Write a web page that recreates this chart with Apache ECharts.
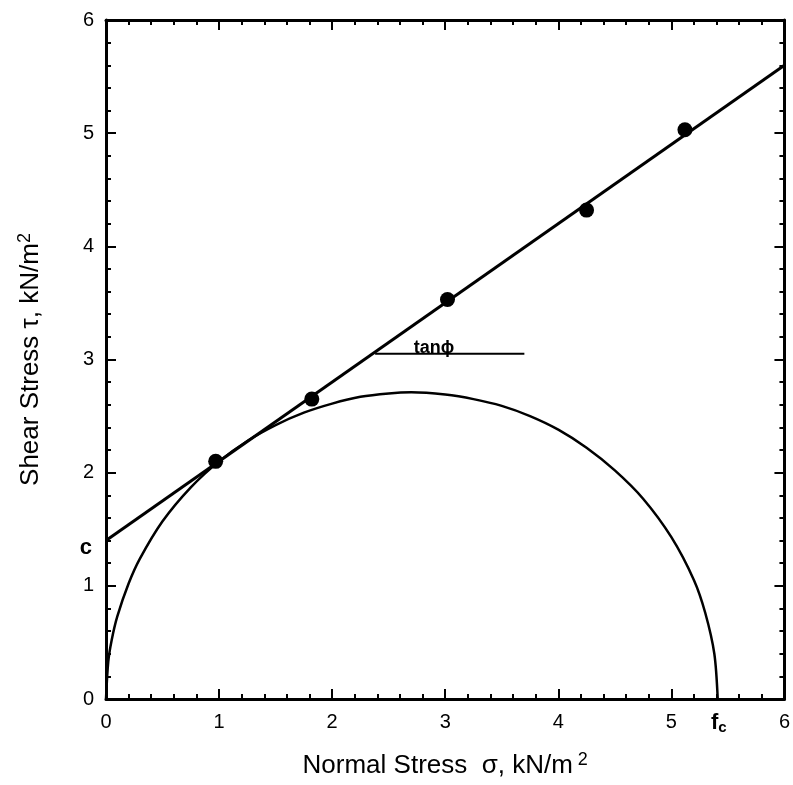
<!DOCTYPE html>
<html>
<head>
<meta charset="utf-8">
<script src="https://cdn.jsdelivr.net/npm/echarts@6/dist/echarts.min.js"></script>
<style>
  html, body { margin: 0; padding: 0; background: #fff; }
  #chart { width: 793px; height: 785px; }
</style>
</head>
<body>
<div id="chart"></div>
<script>
// measured points (normal stress, shear stress)
var testPoints = [[0.97, 2.10], [1.82, 2.65], [3.02, 3.53], [4.25, 4.32], [5.12, 5.03]]

// fitted failure line end points
var fitLine = [[0, 1.40], [6, 5.60]]

// Mohr circle
var circleX = [0, 0.02, 0.05, 0.1, 0.2, 0.3, 0.5, 0.75, 1.0, 1.25, 1.5, 1.75, 2.0, 2.25, 2.5, 2.7,
    3.0, 3.25, 3.5, 3.75, 4.0, 4.25, 4.5, 4.75, 5.0, 5.2, 5.3, 5.38, 5.41]
var circleY = [0, 0.33, 0.52, 0.73, 1.02, 1.24, 1.57, 1.87, 2.10, 2.28, 2.42, 2.53, 2.61, 2.67, 2.70, 2.71,
    2.69, 2.65, 2.59, 2.50, 2.38, 2.22, 2.02, 1.77, 1.43, 1.05, 0.76, 0.40, 0]

// tan phi marker segment
var tanSeg = [[2.38, 3.05], [3.70, 3.05]]

var cValue = 1.40
var fcValue = 5.42

var circleData = circleX.map((x, i) => [x, circleY[i]])

var font = 'Liberation Sans, Arial, sans-serif'

var chart = echarts.init(document.getElementById('chart'))

var axisBase = {
    type: 'value',
    min: 0,
    max: 6,
    interval: 1,
    axisLine: { show: true, onZero: false, lineStyle: { color: '#000', width: 3 } },
    axisTick: { show: true, inside: true, length: 10, lineStyle: { color: '#000', width: 2 } },
    minorTick: { show: true, splitNumber: 5, length: 5, lineStyle: { color: '#000', width: 2 } },
    splitLine: { show: false }
}

var titleRich = {
    n: { fontSize: 26, fontFamily: font, color: '#000' },
    s: { fontSize: 18, fontFamily: font, color: '#000', verticalAlign: 'top', padding: [0, 0, 12, 0] }
}

chart.setOption({
    animation: false,
    backgroundColor: '#fff',
    grid: { left: 106, right: 8, top: 20, bottom: 86 },
    xAxis: [
        Object.assign({}, axisBase, {
            position: 'bottom',
            axisLabel: { color: '#000', fontSize: 20, fontFamily: font, margin: 13 },
            name: '{n|Normal Stress  σ, kN/m}{s| 2}',
            nameLocation: 'middle',
            nameGap: 52,
            nameTextStyle: { rich: titleRich }
        }),
        Object.assign({}, axisBase, {
            position: 'top',
            axisLabel: { show: false }
        })
    ],
    yAxis: [
        Object.assign({}, axisBase, {
            position: 'left',
            axisLabel: { color: '#000', fontSize: 20, fontFamily: font, margin: 12 },
            name: '{n|Shear Stress τ, kN/m}{s|2}',
            nameLocation: 'middle',
            nameGap: 60,
            nameTextStyle: { rich: titleRich }
        }),
        Object.assign({}, axisBase, {
            position: 'right',
            axisLabel: { show: false }
        })
    ],
    series: [
        {
            name: 'circle',
            type: 'line',
            data: circleData,
            smooth: 0.3,
            showSymbol: false,
            lineStyle: { color: '#000', width: 2.5 }
        },
        {
            name: 'fit',
            type: 'line',
            data: fitLine,
            showSymbol: false,
            lineStyle: { color: '#000', width: 3 }
        },
        {
            name: 'tan',
            type: 'line',
            data: tanSeg,
            showSymbol: false,
            lineStyle: { color: '#000', width: 2 }
        },
        {
            name: 'points',
            type: 'scatter',
            data: testPoints,
            symbol: 'circle',
            symbolSize: 15,
            itemStyle: { color: '#000', opacity: 1 }
        },
        {
            name: 'labels',
            type: 'scatter',
            clip: false,
            symbolSize: 0,
            silent: true,
            itemStyle: { color: '#000', opacity: 1 },
            data: [
                {
                    value: [0, cValue],
                    label: { show: true, position: 'left', distance: 14, formatter: 'c',
                        fontSize: 22, fontWeight: 'bold', fontFamily: font, color: '#000', offset: [0, 7] }
                },
                {
                    value: [fcValue, 0],
                    label: { show: true, position: 'bottom', distance: 12, formatter: '{f|f}{c|c}',
                        rich: {
                            f: { fontSize: 22, fontWeight: 'bold', fontFamily: font, color: '#000' },
                            c: { fontSize: 15, fontWeight: 'bold', fontFamily: font, color: '#000', verticalAlign: 'bottom', padding: [9, 0, 0, 0] }
                        } }
                },
                {
                    value: [2.9, 3.05],
                    label: { show: true, position: 'top', distance: -3, formatter: 'tanϕ',
                        fontSize: 18, fontWeight: 'bold', fontFamily: font, color: '#000' }
                }
            ]
        }
    ]
})
</script>
</body>
</html>
